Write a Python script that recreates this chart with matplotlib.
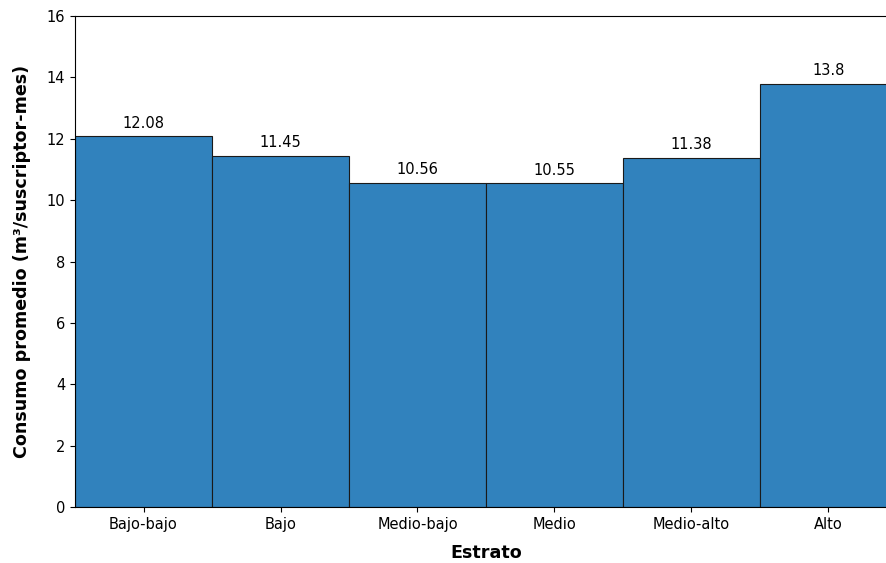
import matplotlib.pyplot as plt

estratos = ["Bajo-bajo", "Bajo", "Medio-bajo", "Medio", "Medio-alto", "Alto"]
consumo = [12.08, 11.45, 10.56, 10.55, 11.38, 13.8]
yticks = [0, 2, 4, 6, 8, 10, 12, 14, 16]

fig = plt.figure(figsize=(8.86, 5.63), dpi=100)
# axes run past the right edge of the figure, as in the reference crop
ax = fig.add_axes([75 / 886, 56 / 563, 822 / 886, 491 / 563])

x = range(len(estratos))
bars = ax.bar(x, consumo, width=1.0, color="#3182bd", edgecolor="#1a1a1a", linewidth=0.8)

for bar, val in zip(bars, consumo):
    ax.annotate(f"{val:g}", (bar.get_x() + bar.get_width() / 2, bar.get_height()),
                xytext=(0, 4), textcoords="offset points", ha="center", va="bottom", fontsize=10.5)

ax.set_xlim(-0.5, len(estratos) - 0.5)
ax.set_ylim(0, 16)
ax.set_yticks(yticks)
ax.set_xticks(list(x))
ax.set_xticklabels(estratos, fontsize=10.5)
ax.tick_params(axis="y", labelsize=10.5)
ax.set_xlabel("Estrato", fontsize=12.6, fontweight="bold", labelpad=9)
ax.set_ylabel("Consumo promedio (m³/suscriptor-mes)", fontsize=12.6, fontweight="bold", labelpad=11)

fig.savefig("out.png", dpi=100)
